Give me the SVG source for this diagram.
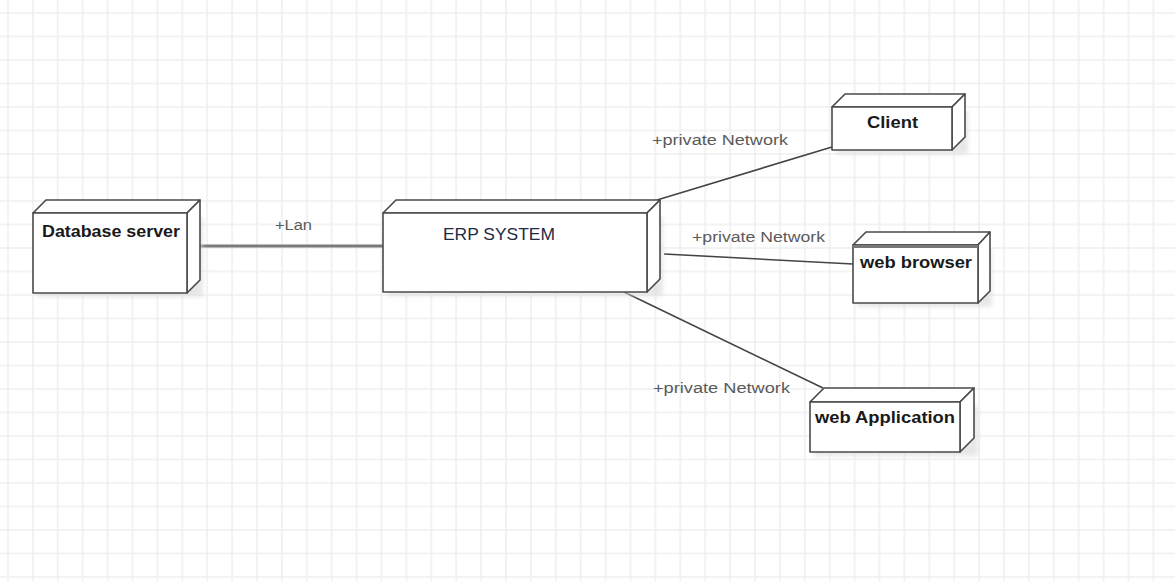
<svg xmlns="http://www.w3.org/2000/svg" width="1175" height="581" viewBox="0 0 1175 581">
  <defs>
    <pattern id="grid" x="7" y="12" width="24.9" height="23.5" patternUnits="userSpaceOnUse">
      <path d="M1 0 V23.5 M0 1 H24.9" stroke="#efefef" stroke-width="1.6" fill="none"/>
    </pattern>
    <filter id="sh" x="-10%" y="-10%" width="130%" height="140%">
      <feGaussianBlur stdDeviation="2"/>
    </filter>
  </defs>
  <style>
    .face { fill: #ffffff; stroke: #4a4a4a; stroke-width: 1.6; stroke-linejoin: round; }
    .shadow { fill: #d8d8d8; opacity: 0.6; }
    .name { font-family: "Liberation Sans", Arial, sans-serif; font-weight: bold; font-size: 16px; fill: #1a1a1a; }
    .erp { font-family: "Liberation Sans", Arial, sans-serif; font-size: 17px; fill: #1f2a44; }
    .lbl { font-family: "Liberation Sans", Arial, sans-serif; font-size: 14px; fill: #5a5a5a; }
    .conn { stroke: #444444; stroke-width: 1.6; fill: none; }
    .lan { stroke: #7a7a7a; stroke-width: 3; fill: none; }
  </style>
  <rect width="1175" height="581" fill="#ffffff"/>
  <rect width="1175" height="581" fill="url(#grid)"/>

  <g id="connectors">
    <line class="lan" x1="200" y1="246" x2="383" y2="246"/>
    <line class="conn" x1="832" y1="147" x2="657" y2="200"/>
    <line class="conn" x1="664" y1="254" x2="853" y2="264"/>
    <line class="conn" x1="624" y1="292" x2="823" y2="388"/>
    <text class="lbl" x="275" y="230" textLength="37" lengthAdjust="spacingAndGlyphs">+Lan</text>
    <text class="lbl" x="652" y="145" textLength="136" lengthAdjust="spacingAndGlyphs">+private Network</text>
    <text class="lbl" x="692" y="242" textLength="133" lengthAdjust="spacingAndGlyphs">+private Network</text>
    <text class="lbl" x="653" y="393" textLength="137" lengthAdjust="spacingAndGlyphs">+private Network</text>
  </g>

  <g id="database-server">
    <rect class="shadow" x="37" y="217" width="166" height="80" filter="url(#sh)"/>
    <polygon class="face" points="33,213 46,200 200,200 187,213"/>
    <polygon class="face" points="187,213 200,200 200,280 187,293"/>
    <rect class="face" x="33" y="213" width="154" height="80"/>
    <text class="name" x="42" y="237" textLength="138" lengthAdjust="spacingAndGlyphs">Database server</text>
  </g>

  <g id="erp-system">
    <rect class="shadow" x="387" y="217" width="276" height="79" filter="url(#sh)"/>
    <polygon class="face" points="383,213 396,200 660,200 647,213"/>
    <polygon class="face" points="647,213 660,200 660,279 647,292"/>
    <rect class="face" x="383" y="213" width="264" height="79"/>
    <text class="erp" x="443" y="240" textLength="112" lengthAdjust="spacingAndGlyphs">ERP SYSTEM</text>
  </g>

  <g id="client">
    <rect class="shadow" x="836" y="111" width="132" height="43" filter="url(#sh)"/>
    <polygon class="face" points="832,107 845,94 965,94 952,107"/>
    <polygon class="face" points="952,107 965,94 965,137 952,150"/>
    <rect class="face" x="832" y="107" width="120" height="43"/>
    <text class="name" x="867" y="128" textLength="51" lengthAdjust="spacingAndGlyphs">Client</text>
  </g>

  <g id="web-browser">
    <rect class="shadow" x="857" y="249" width="135" height="58" filter="url(#sh)"/>
    <polygon class="face" points="853,245 866,232 990,232 978,245"/>
    <polygon class="face" points="978,245 990,232 990,291 978,303"/>
    <rect class="face" x="853" y="245" width="125" height="58"/>
    <line x1="853" y1="246.5" x2="978" y2="246.5" stroke="#777777" stroke-width="3"/>
    <text class="name" x="860" y="268" textLength="112" lengthAdjust="spacingAndGlyphs">web browser</text>
  </g>

  <g id="web-application">
    <rect class="shadow" x="814" y="406" width="164" height="50" filter="url(#sh)"/>
    <polygon class="face" points="810,402 824,388 974,388 960,402"/>
    <polygon class="face" points="960,402 974,388 974,438 960,452"/>
    <rect class="face" x="810" y="402" width="150" height="50"/>
    <text class="name" x="815" y="423" textLength="140" lengthAdjust="spacingAndGlyphs">web Application</text>
  </g>
</svg>
